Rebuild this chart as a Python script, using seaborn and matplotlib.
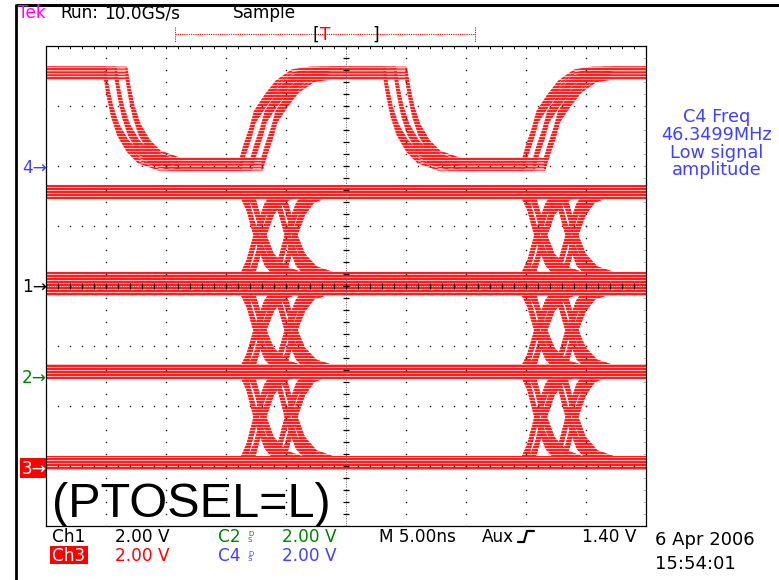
import numpy as np
import pandas as pd
import matplotlib
matplotlib.use("Agg")
import matplotlib.pyplot as plt
import seaborn as sns
from matplotlib.patches import Rectangle

# ---------------- acquisition data ----------------
# Screen: 10 divisions x 5 ns, 8 divisions vertical (levels in divisions)
screen_ns = [0.0, 50.0]
screen_div = [-4.0, 4.0]

# Ch4 clock: edge start times (ns), levels (div), edge-to-edge jitter
clk_edges_ns = [4.9, 16.2, 28.2, 39.75]
clk_levels_div = {"high": 3.55, "low": 2.03}
clk_pattern = ["high", "low", "high", "low", "high"]
clk_jitter_ns = [0.0, 0.9, 1.8]

# Data channels Ch1..Ch3: high / low levels (div)
data_names = ["Ch1", "Ch2", "Ch3"]
data_high_div = [1.57, -0.05, -1.42]
data_low_div = [0.12, -1.43, -2.95]
data_edges_ns = [16.3, 39.7]
data_skew_ns = [0.0, 0.6, 2.6, 3.2]

# vertical spread of the persistence band (div)
level_spread_div = [-0.09, -0.045, 0.0, 0.045, 0.09]

# Edge shapes: time after edge start (ns) vs. fraction of the swing completed
clk_rise_t = [0, 0.33, 0.83, 1.2, 2.1, 3.0, 4.3, 5.8]
clk_rise_p = [0, 0.15, 0.34, 0.52, 0.70, 0.85, 0.97, 1.0]
clk_fall_t = [0, 0.25, 0.6, 1.1, 1.9, 2.8, 4.5]
clk_fall_p = [0, 0.20, 0.42, 0.62, 0.80, 0.92, 1.0]
data_rise_t = [0, 0.5, 1.2, 2.0, 2.8, 3.8]
data_rise_p = [0, 0.15, 0.50, 0.80, 0.95, 1.0]
data_fall_t = [0, 0.5, 1.2, 2.0, 3.0, 4.5]
data_fall_p = [0, 0.15, 0.50, 0.78, 0.93, 1.0]


def waveform(levels, edges, rise, fall):
    xs, ys = [screen_ns[0]], [levels[0]]
    for i, t0 in enumerate(edges):
        a, b = levels[i], levels[i + 1]
        if a == b:
            continue
        st, sp = rise if b > a else fall
        for dt, p in zip(st, sp):
            xs.append(t0 + dt)
            ys.append(a + (b - a) * p)
    xs.append(screen_ns[1])
    ys.append(levels[-1])
    return xs, ys


rows = []
tid = 0
# clock traces
for j in clk_jitter_ns:
    for off in level_spread_div:
        lv = [clk_levels_div[k] + off for k in clk_pattern]
        xs, ys = waveform(lv, [e + j for e in clk_edges_ns],
                          (clk_rise_t, clk_rise_p), (clk_fall_t, clk_fall_p))
        rows += [(tid, x, y) for x, y in zip(xs, ys)]
        tid += 1
# data traces: every bit combination for the three bit periods
for hi, lo in zip(data_high_div, data_low_div):
    for bits in range(8):
        pattern = [(bits >> k) & 1 for k in range(3)]
        for s in data_skew_ns:
            for off in level_spread_div:
                lv = [(hi if b else lo) + off for b in pattern]
                xs, ys = waveform(lv, [e + s for e in data_edges_ns],
                                  (data_rise_t, data_rise_p), (data_fall_t, data_fall_p))
                rows += [(tid, x, y) for x, y in zip(xs, ys)]
                tid += 1

traces = pd.DataFrame(rows, columns=["trace", "t_ns", "v_div"])

# ---------------- figure ----------------
sns.set_style("white")
plt.rcParams["font.family"] = ["DejaVu Sans"]

W, H = 779, 580
fig = plt.figure(figsize=(W / 100, H / 100), dpi=100)
fig.patch.set_facecolor("white")

ax = fig.add_axes([46 / W, 54 / H, 600 / W, 480 / H])
sns.lineplot(data=traces, x="t_ns", y="v_div", units="trace", estimator=None,
             sort=False, color="#ff1a1a", lw=1.5, legend=False, ax=ax, zorder=2)

ax.set_xlim(*screen_ns)
ax.set_ylim(*screen_div)
ax.set_xlabel("")
ax.set_ylabel("")

# raster-like scan stripes through the persistence traces
stripe_y = -4 + (np.arange(0, 480, 3) + 0.5) / 60
ax.hlines(stripe_y, 0, 50, color="white", lw=0.75, alpha=0.7, zorder=2.5)

# graticule: dotted division lines
xs_fine = np.arange(0, 50.01, 1.0)
ys_fine = np.arange(-4, 4.001, 0.2)
for xg in range(5, 50, 5):
    if xg == 25:
        continue
    ax.plot([xg] * len(ys_fine), ys_fine, ls="none", marker="s", ms=1.0,
            mew=0, color="#222222", zorder=3)
for yg in range(-3, 4):
    if yg == 0:
        continue
    ax.plot(xs_fine, [yg] * len(xs_fine), ls="none", marker="s", ms=1.0,
            mew=0, color="#222222", zorder=3)
# centre cross with ticks
ax.axhline(0, color="#666666", lw=0.7, ls=(0, (1, 1.5)), zorder=3)
ax.axvline(25, color="#666666", lw=0.7, ls=(0, (1, 1.5)), zorder=3)
ax.plot(xs_fine, np.zeros_like(xs_fine), ls="none", marker="|", ms=5,
        mew=0.9, color="black", zorder=3)
ax.plot(np.full_like(ys_fine, 25), ys_fine, ls="none", marker="_", ms=5,
        mew=0.9, color="black", zorder=3)

ax.set_xticks(np.arange(0, 51, 5))
ax.set_xticks(xs_fine, minor=True)
ax.set_yticks(np.arange(-4, 5, 1))
ax.set_yticks(ys_fine, minor=True)
ax.tick_params(which="both", direction="in", length=2.5, width=0.7,
               top=True, right=True, labelbottom=False, labelleft=False,
               color="black")
for sp in ax.spines.values():
    sp.set_color("black")
    sp.set_linewidth(0.9)
    sp.set_visible(True)

# ---------------- screen annotations (pixel coordinates) ----------------
ov = fig.add_axes([0, 0, 1, 1])
ov.set_xlim(0, W)
ov.set_ylim(H, 0)
ov.axis("off")

FS = 12.2
ov.plot([16, W], [4.5, 4.5], color="black", lw=2.2, solid_capstyle="butt")
ov.plot([16, 16], [4, H], color="black", lw=2.0, solid_capstyle="butt")

ov.text(18, 18, "Tek", color="#ff00ff", fontsize=FS, va="baseline")
ov.text(60, 18, "Run:", color="black", fontsize=FS, va="baseline")
ov.text(104, 18, "10.0GS/s", color="black", fontsize=FS, va="baseline")
ov.text(233, 18, "Sample", color="black", fontsize=FS, va="baseline")

# trigger position bar
ov.plot([175, 475], [34, 34], color="red", lw=0.8, ls=(0, (1, 1)))
ov.plot([175, 175], [27, 42], color="red", lw=0.8, ls=(0, (1, 1)))
ov.plot([475, 475], [27, 42], color="red", lw=0.8, ls=(0, (1, 1)))
ov.text(313, 40, "[", color="black", fontsize=FS, va="baseline")
ov.text(320, 40, "T", color="red", fontsize=FS, va="baseline")
ov.text(372, 40, "]", color="black", fontsize=FS, va="baseline")

# channel ground markers
ov.text(22, 173, "4\u2192", color="#4040ff", fontsize=FS, va="baseline")
ov.text(22, 292, "1\u2192", color="black", fontsize=FS, va="baseline")
ov.text(22, 383, "2\u2192", color="#008000", fontsize=FS, va="baseline")
ov.add_patch(Rectangle((20, 458), 26, 20, color="red", lw=0))
ov.text(22, 474, "3\u2192", color="white", fontsize=FS, va="baseline")

# measurement readout
for yb, s in zip([122, 140, 157.5, 175],
                 ["C4 Freq", "46.3499MHz", "Low signal", "amplitude"]):
    ov.text(717, yb, s, color="#4040ff", fontsize=12.8, ha="center", va="baseline")

# big annotation
ov.text(52, 517, "(PTOSEL=L)", color="black", fontsize=35,
        family=["Liberation Sans", "DejaVu Sans"], va="baseline")

# status lines
r1, r2 = 542, 561
ov.text(52, r1, "Ch1", color="black", fontsize=FS, va="baseline")
ov.text(115, r1, "2.00 V", color="black", fontsize=FS, va="baseline")
ov.text(218, r1, "C2", color="#008000", fontsize=FS, va="baseline")
ov.text(248, r1, "D\nS", color="#008000", fontsize=5, linespacing=0.9,
        va="baseline")
ov.text(282, r1, "2.00 V", color="#008000", fontsize=FS, va="baseline")
ov.text(379, r1, "M 5.00ns", color="black", fontsize=FS, va="baseline")
ov.text(482, r1, "Aux", color="black", fontsize=FS, va="baseline")
ov.plot([518, 524, 527, 534], [542, 542, 531, 531], color="black", lw=1.6)
ov.text(582, r1, "1.40 V", color="black", fontsize=FS, va="baseline")

ov.add_patch(Rectangle((50, 546), 38, 18, color="red", lw=0))
ov.text(52, r2, "Ch3", color="white", fontsize=FS, va="baseline")
ov.text(115, r2, "2.00 V", color="red", fontsize=FS, va="baseline")
ov.text(218, r2, "C4", color="#4040ff", fontsize=FS, va="baseline")
ov.text(248, r2, "D\nS", color="#4040ff", fontsize=5, linespacing=0.9,
        va="baseline")
ov.text(282, r2, "2.00 V", color="#4040ff", fontsize=FS, va="baseline")

ov.text(655, 545, "6 Apr 2006", color="black", fontsize=13, va="baseline")
ov.text(655, 569, "15:54:01", color="black", fontsize=13, va="baseline")

fig.savefig("out.png", dpi=100, facecolor="white")
